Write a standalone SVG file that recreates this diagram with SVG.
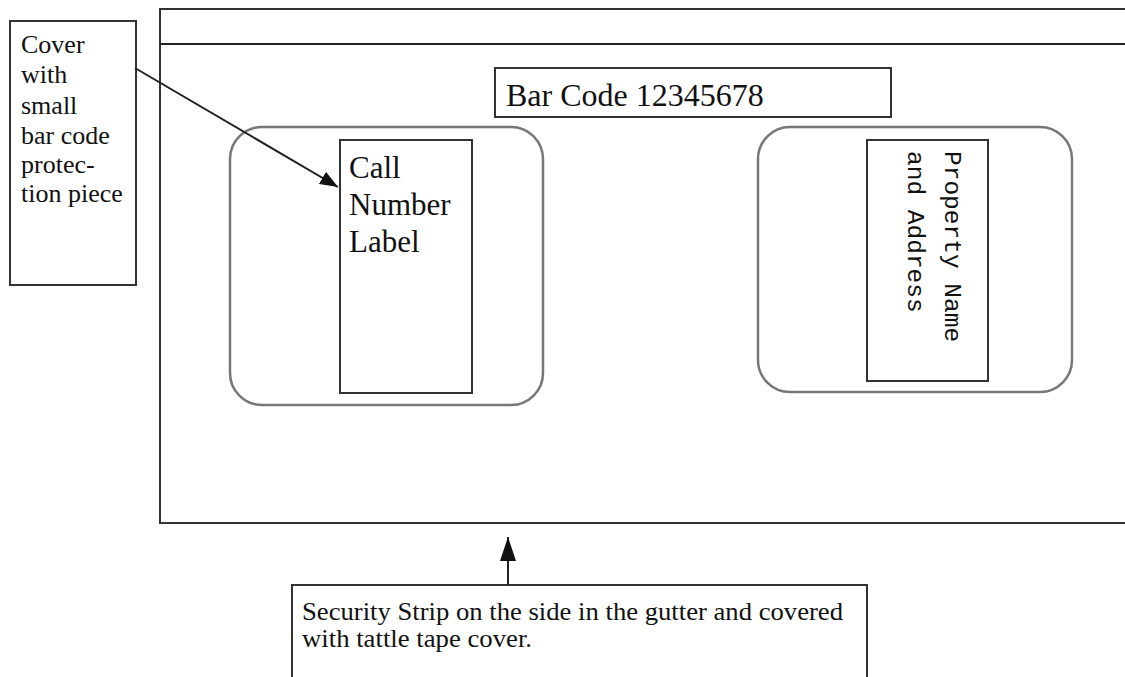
<svg xmlns="http://www.w3.org/2000/svg" width="1125" height="677" viewBox="0 0 1125 677">
<style>
.box{fill:#fff;stroke:#333;stroke-width:2}
.rr{fill:none;stroke:#777;stroke-width:2.5}
.ln{stroke:#222;stroke-width:2;fill:none}
.serif{font-family:"Liberation Serif","Times New Roman",serif;fill:#111}
.mono{font-family:"Liberation Mono","Courier New",monospace;fill:#111}
</style>
<defs>
<marker id="ahd" markerWidth="18" markerHeight="14" refX="18" refY="7" orient="auto" markerUnits="userSpaceOnUse" viewBox="0 0 18 14">
<path d="M0,0 L18,7 L0,14 z" fill="#111"/>
</marker>
<marker id="ahv" markerWidth="24" markerHeight="16" refX="24" refY="8" orient="auto" markerUnits="userSpaceOnUse" viewBox="0 0 24 16">
<path d="M0,0 L24,8 L0,16 z" fill="#111"/>
</marker>
</defs>
<rect width="1125" height="677" fill="#fff"/>
<g id="cover">
<rect x="160" y="9" width="980" height="514" class="box"/>
<line x1="160" y1="44" x2="1140" y2="44" class="ln"/>
</g>
<g id="barcode">
<rect x="495" y="68" width="396" height="49" class="box"/>
<text x="506" y="106" class="serif" font-size="32">Bar Code 12345678</text>
</g>
<g id="callnumber-area">
<rect x="230" y="127" width="313" height="278" rx="32" class="rr"/>
</g>
<g id="callnumber">
<rect x="340" y="140" width="132" height="253" class="box"/>
<text class="serif" font-size="31"><tspan x="349" y="178">Call</tspan><tspan x="349" y="215">Number</tspan><tspan x="349" y="252">Label</tspan></text>
</g>
<g id="property-area">
<rect x="758" y="127" width="314" height="265" rx="32" class="rr"/>
</g>
<g id="property">
<rect x="867" y="140" width="121" height="241" class="box"/>
<g transform="translate(945,151) rotate(90)">
<text class="mono" font-size="24.5"><tspan x="0" y="0">Property Name</tspan><tspan x="0" y="37">and Address</tspan></text>
</g>
</g>
<g id="note-cover">
<rect x="10" y="21" width="126" height="264" class="box"/>
<text class="serif" font-size="26"><tspan x="21" y="53">Cover</tspan><tspan x="21" y="83">with</tspan><tspan x="21" y="114">small</tspan><tspan x="21" y="144">bar code</tspan><tspan x="21" y="173">protec-</tspan><tspan x="21" y="202">tion piece</tspan></text>
</g>
<g id="note-security">
<rect x="292" y="585" width="575" height="110" class="box"/>
<text class="serif" font-size="25.5"><tspan x="302" y="620" textLength="541" lengthAdjust="spacingAndGlyphs">Security Strip on the side in the gutter and covered</tspan><tspan x="302" y="647" textLength="230" lengthAdjust="spacingAndGlyphs">with tattle tape cover.</tspan></text>
</g>
<g id="connectors">
<line x1="135" y1="68" x2="338" y2="187" class="ln" marker-end="url(#ahd)"/>
<line x1="508" y1="585" x2="508" y2="537" class="ln" marker-end="url(#ahv)"/>
</g>
</svg>
